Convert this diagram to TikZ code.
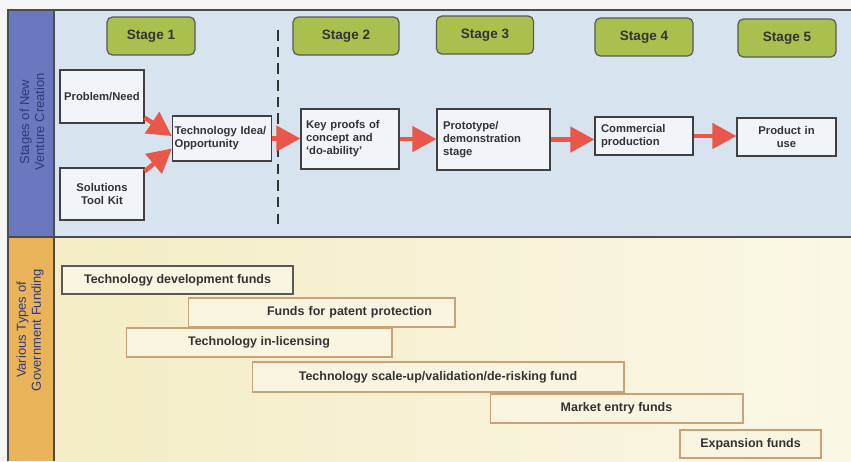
\documentclass[tikz,border=0pt]{standalone}
\usepackage{fontspec}
\setmainfont{Liberation Sans}
\usepackage{xcolor}
\usetikzlibrary{arrows.meta,positioning,calc,backgrounds}
\definecolor{panelblue}{HTML}{D7E3EE}
\definecolor{sideblue}{HTML}{6A78C0}
\definecolor{sideorange}{HTML}{EAB35A}
\definecolor{panelyellow}{HTML}{F4EDC6}
\definecolor{stagegreen}{HTML}{A9C04F}
\definecolor{arrowred}{HTML}{E8574A}
\definecolor{fundline}{HTML}{C9A27A}
\definecolor{sidetextcol}{HTML}{2E3A78}

\begin{document}
\begin{tikzpicture}[
    x=0.02cm, y=-0.02cm,
    stage/.style={rectangle, draw=black!65, fill=stagegreen, rounded corners=3pt, minimum height=0.76cm, line width=0.7pt, text=black!80, font=\fontsize{7.7}{9}\selectfont\bfseries},
    box/.style={rectangle, draw=black!75, fill=white!65!panelblue, inner xsep=0.12cm, inner ysep=0pt, line width=0.7pt, text=black!80, font=\fontsize{6.4}{7.4}\selectfont\bfseries},
    fund/.style={rectangle, draw=fundline, fill=white!45!panelyellow, inner sep=0pt, minimum height=0.58cm, line width=0.6pt, text=black!80, font=\fontsize{7.1}{8}\selectfont\bfseries},
    sidetext/.style={rotate=90, align=center, text=sidetextcol, font=\fontsize{7.4}{8.6}\selectfont},
    redarrow/.style={-{Triangle[length=0.48cm,width=0.5cm]}, line width=0.09cm, arrowred}
]
\useasboundingbox (0,0) rectangle (851,461);
\fill[black!4] (0,0) rectangle (851,461);

% Panels
\fill[panelblue] (54,10) rectangle (851,237);
\shade[left color=panelyellow, right color=panelyellow!45!white] (54,237) rectangle (851,461);
\fill[sideblue] (8,10) rectangle (54,237);
\fill[sideorange] (8,237) rectangle (54,461);
\draw[black!70, line width=0.8pt] (8,461) -- (8,10) -- (851,10);
\draw[black!70, line width=0.8pt] (8,237) -- (851,237);
\draw[black!70, line width=0.8pt] (54,10) -- (54,461);

\node[sidetext] (stageslabel) at (32,122) {Stages of New\\Venture Creation};
\node[sidetext] (fundinglabel) at (30,330) {Various Types of\\Government Funding};

% Stages
\node[stage, minimum width=1.76cm] (stage1) at (151,36) {Stage 1};
\node[stage, minimum width=2.12cm] (stage2) at (346,36) {Stage 2};
\node[stage, minimum width=1.94cm] (stage3) at (485,35) {Stage 3};
\node[stage, minimum width=1.96cm] (stage4) at (644,37) {Stage 4};
\node[stage, minimum width=1.96cm] (stage5) at (787,38) {Stage 5};

% Divider
\coordinate (divtop) at (278,30);
\coordinate (divbot) at (278,230);
\draw[black!80, line width=1.1pt, dash pattern=on 6pt off 3.5pt] (divtop) -- (divbot);

% Venture creation steps
\node[box, text width=1.6cm, inner xsep=0.04cm, minimum height=1.06cm, align=center] (problem) at (102,96.5) {Problem/Need};
\node[box, text width=1.44cm, minimum height=1.04cm, align=center] (solutions) at (102,194) {Solutions\\Tool Kit};
\node[box, text width=1.9cm, inner xsep=0.04cm, minimum height=0.9cm, align=left] (techidea) at (222,138.5) {Technology Idea/\\Opportunity};
\node[box, text width=1.76cm, inner xsep=0.1cm, minimum height=1.2cm, align=left] (keyproofs) at (350,139) {Key proofs of\\concept and\\`do-ability'};
\node[box, text width=2.02cm, minimum height=1.22cm, align=left] (prototype) at (493.5,139.5) {Prototype/\\demonstration\\stage};
\node[box, text width=1.72cm, minimum height=0.76cm, align=left] (commercial) at (644,136) {Commercial\\production};
\node[box, text width=1.74cm, minimum height=0.76cm, align=center] (product) at (786.5,137) {Product in\\use};

% Connections
\draw[redarrow] ([yshift=0.12cm]problem.south east) -- ([yshift=0.05cm]techidea.west);
\draw[redarrow] ([yshift=-0.08cm]solutions.north east) -- ([yshift=-0.2cm]techidea.west);
\draw[redarrow] (techidea.east) -- (techidea.east -| keyproofs.west);
\draw[redarrow] (keyproofs.east) -- (keyproofs.east -| prototype.west);
\draw[redarrow] (prototype.east) -- (prototype.east -| commercial.west);
\draw[redarrow] (commercial.east) -- (commercial.east -| product.west);

% Funding types
\node[fund, draw=black!65, minimum width=4.62cm, minimum height=0.56cm] (devfunds) at (177.5,280) {Technology development funds};
\node[fund, text width=4.42cm, inner xsep=0.46cm, align=right] (patent) at (321.5,312.5) {Funds for patent protection};
\node[fund, minimum width=5.32cm] (inlicensing) at (259,342.5) {Technology in-licensing};
\node[fund, minimum width=7.44cm, minimum height=0.6cm] (scaleup) at (438,377) {Technology scale-up/validation/de-risking fund};
\node[fund, minimum width=5.06cm] (marketentry) at (616.5,408.5) {Market entry funds};
\node[fund, minimum width=2.82cm, minimum height=0.56cm] (expansion) at (750.5,444) {Expansion funds};

\end{tikzpicture}
\end{document}
